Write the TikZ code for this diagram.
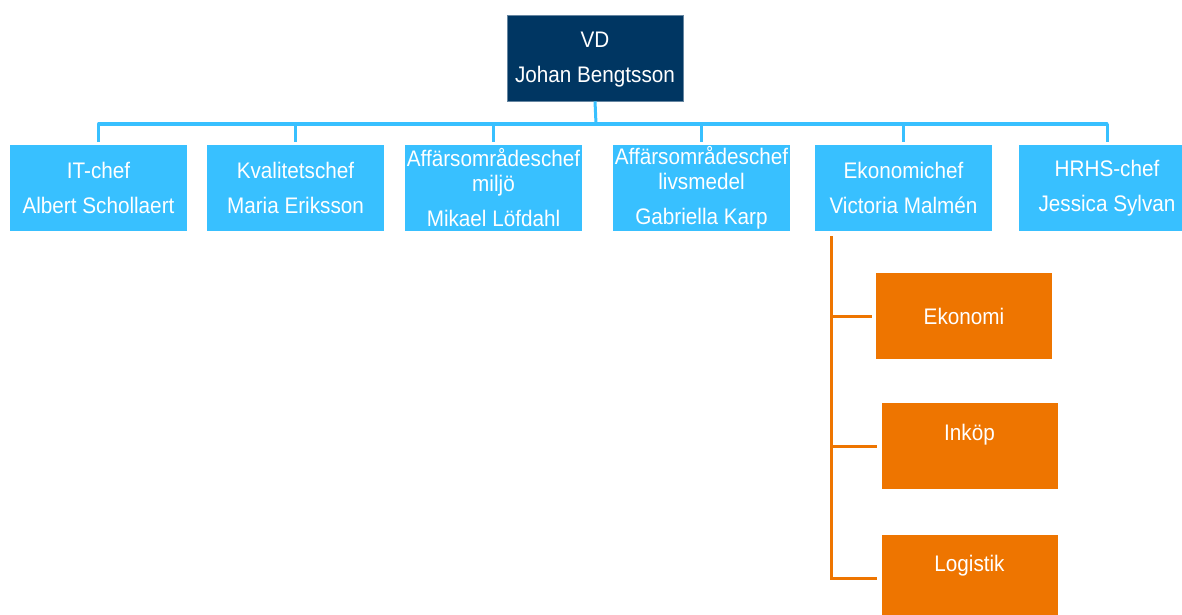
\documentclass[tikz,border=0pt]{standalone}
\usepackage{fontspec}
\setmainfont{Liberation Sans}[FakeStretch=0.92]
\definecolor{navy}{RGB}{0,54,98}
\definecolor{sky}{RGB}{56,192,255}
\definecolor{orng}{RGB}{238,117,0}
\tikzset{
  box/.style={rectangle, inner sep=0pt, minimum width=177pt, minimum height=86pt,
    text=white, align=center, font=\fontsize{22.5}{25}\selectfont},
  topbox/.style={box, fill=navy, draw=navy!60!white, line width=0.6pt, minimum width=176pt},
  midbox/.style={box, fill=sky},
  obox/.style={box, fill=orng, minimum width=176pt},
  otext/.style={text=white, inner sep=0pt, font=\fontsize{22.5}{25}\selectfont},
  bline/.style={draw=sky, line width=3pt},
  oline/.style={draw=orng, line width=3pt},
}
\begin{document}
\begin{tikzpicture}[x=1pt,y=-1pt]
\useasboundingbox (0,0) rectangle (1182,615);
\node[topbox] (vd) at (595,58) {};
\node[otext, align=center] (vdt) at (595,60) {VD\\[10pt]Johan Bengtsson};
\node[midbox] (it) at (98.5,188) {IT-chef\\[10pt]Albert Schollaert};
\node[midbox] (kv) at (295.5,188) {Kvalitetschef\\[10pt]Maria Eriksson};
\node[midbox] (mi) at (493.5,188) {Affärsområdeschef\\miljö\\[10pt]Mikael Löfdahl};
\node[midbox] (li) at (701.5,188) {Affärsområdeschef\\livsmedel\\[10pt]Gabriella Karp};
\node[midbox] (ek) at (903.5,188) {Ekonomichef\\[10pt]Victoria Malmén};
\node[midbox] (hr) at (1107,188) {HRHS-chef\\[10pt]Jessica Sylvan};
\coordinate (bus) at (596,124);
\draw[bline] (vd.south) -- (bus);
\draw[bline, line cap=round] (it.north |- bus) -- (hr.north |- bus);
\foreach \n in {it,kv,mi,li,ek,hr}{
  \draw[bline, shorten >=3pt] (\n.north |- bus) -- (\n.north);
}
\node[obox] (ekb) at (964,316) {};
\node[otext] (ekt) at (964,316) {Ekonomi};
\node[obox] (inb) at (969.5,446) {};
\node[otext] (int) at (969.5,435) {Inköp};
\node[obox] (lob) at (969.5,578) {};
\node[otext] (lot) at (969.5,566) {Logistik};
\coordinate (otop) at (831,236);
\draw[oline] (otop) -- (otop |- lob.west) -- ([xshift=-4pt]lob.west);
\draw[oline] (otop |- ekb.west) -- ([xshift=-4pt]ekb.west);
\draw[oline] (otop |- inb.west) -- ([xshift=-4pt]inb.west);
\end{tikzpicture}
\end{document}
